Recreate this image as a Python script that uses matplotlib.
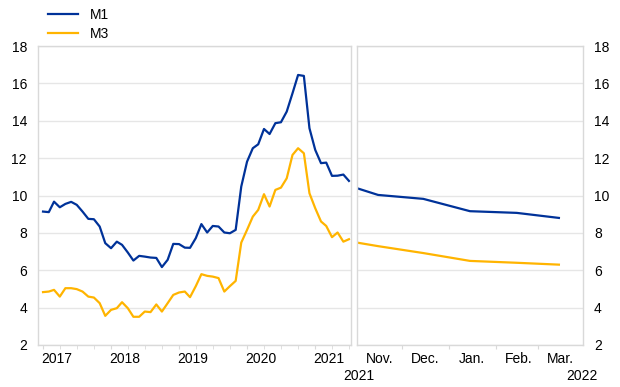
import pandas as pd
import matplotlib.pyplot as plt
import matplotlib.dates as mdates
import matplotlib.transforms as mtransforms

plt.rcParams["font.family"] = ["Liberation Sans", "DejaVu Sans"]

# Monthly annual growth rates, Jan 2017 - Jul 2021
months = pd.date_range("2017-01-01", "2021-07-01", freq="MS")
m1 = [9.14, 9.11, 9.67, 9.37, 9.55, 9.66, 9.50, 9.14, 8.75, 8.73, 8.34, 7.45,
      7.18, 7.53, 7.36, 6.95, 6.52, 6.77, 6.73, 6.68, 6.66, 6.17, 6.56, 7.41,
      7.40, 7.21, 7.20, 7.72, 8.47, 8.02, 8.37, 8.34, 8.02, 7.98, 8.16,
      10.48, 11.81, 12.53, 12.74, 13.56, 13.29, 13.87, 13.92, 14.49, 15.47,
      16.45, 16.40, 13.60, 12.44, 11.73, 11.76, 11.05, 11.06, 11.12, 10.78]
m3 = [4.83, 4.86, 4.95, 4.59, 5.04, 5.04, 4.99, 4.86, 4.59, 4.54, 4.24, 3.56,
      3.88, 3.97, 4.29, 3.97, 3.51, 3.51, 3.79, 3.76, 4.17, 3.79, 4.24, 4.68,
      4.81, 4.86, 4.56, 5.15, 5.79, 5.70, 5.66, 5.58, 4.86, 5.15, 5.43,
      7.48, 8.16, 8.87, 9.23, 10.07, 9.41, 10.30, 10.42, 10.92, 12.17,
      12.53, 12.26, 10.12, 9.32, 8.61, 8.37, 7.77, 8.02, 7.53, 7.66]

# Right panel: Nov 2021 - Mar 2022
recent_dates = pd.to_datetime(["2021-11-01", "2021-11-15", "2021-12-15",
                               "2022-01-15", "2022-02-15", "2022-03-15"])
m1_recent = [10.39, 10.03, 9.82, 9.16, 9.07, 8.80]
m3_recent = [7.48, 7.29, 6.92, 6.50, 6.40, 6.30]
month_labels = ["Nov.", "Dec.", "Jan.", "Feb.", "Mar."]

BLUE = "#003299"
YELLOW = "#FFB400"
GRID = "#e6e6e6"
FRAME = "#d9d9d9"

fig = plt.figure(figsize=(6.2, 3.87), dpi=100)
ax1 = fig.add_axes([38 / 620, 42 / 387, 313 / 620, 299 / 387])
ax2 = fig.add_axes([357 / 620, 42 / 387, 226 / 620, 299 / 387])

for ax in (ax1, ax2):
    ax.set_ylim(2, 18)
    ax.set_yticks(range(2, 19, 2))
    ax.grid(axis="y", color=GRID, linewidth=1)
    ax.set_axisbelow(True)
    for sp in ax.spines.values():
        sp.set_color(FRAME)
        sp.set_linewidth(1)
    ax.tick_params(axis="y", length=0, labelsize=10, pad=8)
    ax.tick_params(axis="x", which="both", colors=FRAME, labelcolor="black",
                   labelsize=10)

# Left panel
l1, = ax1.plot(months, m1, color=BLUE, linewidth=1.6, label="M1")
l3, = ax1.plot(months, m3, color=YELLOW, linewidth=1.6, label="M3")
ax1.set_xlim(pd.Timestamp("2016-12-05"), pd.Timestamp("2021-07-12"))
ax1.xaxis.set_major_locator(mdates.YearLocator())
ax1.xaxis.set_major_formatter(mdates.DateFormatter("%Y"))
ax1.xaxis.set_minor_locator(mdates.MonthLocator(bymonth=[4, 7, 10]))
ax1.tick_params(axis="x", which="major", length=3, pad=2)
ax1.tick_params(axis="x", which="minor", length=3)
shift = mtransforms.ScaledTranslation(0.135, 0, fig.dpi_scale_trans)
for lbl in ax1.get_xticklabels():
    lbl.set_horizontalalignment("center")
    lbl.set_transform(lbl.get_transform() + shift)

# Right panel
ax2.plot(recent_dates, m1_recent, color=BLUE, linewidth=1.6)
ax2.plot(recent_dates, m3_recent, color=YELLOW, linewidth=1.6)
ax2.set_xlim(pd.Timestamp("2021-11-01"), pd.Timestamp("2022-03-31"))
ax2.yaxis.tick_right()
ax2.xaxis.set_major_locator(mdates.MonthLocator(bymonth=[12, 1, 2, 3]))
ax2.xaxis.set_major_formatter(plt.NullFormatter())
ax2.xaxis.set_minor_locator(mdates.MonthLocator(bymonthday=16))
ax2.xaxis.set_minor_formatter(plt.FixedFormatter(month_labels))
ax2.tick_params(axis="x", which="major", length=3)
ax2.tick_params(axis="x", which="minor", length=0, pad=5)

fig.text(359 / 620, 1 - 376 / 387, "2021", ha="center", va="center", fontsize=10)
fig.text(598 / 620, 1 - 376 / 387, "2022", ha="right", va="center", fontsize=10)

fig.legend(handles=[l1, l3], loc="upper left", bbox_to_anchor=(40 / 620, 1.0),
           frameon=False, fontsize=10, handlelength=2.1, handletextpad=0.9,
           labelspacing=0.35, borderaxespad=0.2)

fig.savefig("out.png", dpi=100)
